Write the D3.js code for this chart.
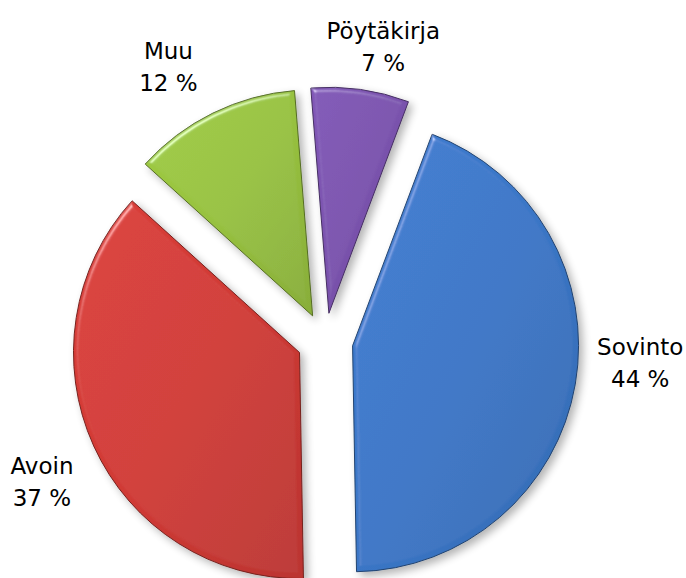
<!DOCTYPE html>
<html>
<head>
<meta charset="utf-8">
<script src="https://cdn.jsdelivr.net/npm/d3@7/dist/d3.min.js"></script>
<style>
  body { margin: 0; background: #fff; }
  text { font-family: "DejaVu Sans", Verdana, sans-serif; }
</style>
</head>
<body>
<svg id="chart" width="686" height="578"></svg>
<script>
// chart data
const categories = ["Sovinto", "Avoin", "Muu", "Pöytäkirja"];
const values = [44, 37, 12, 7];
const percentLabels = ["44 %", "37 %", "12 %", "7 %"];
const baseColors = ["#3a76c6", "#d03a35", "#97c13f", "#7a52ad"];

// layout
const cx = 325, cy = 341;
const radius = 226;
const explode = 28;
const labelRadius = 316;
const startDeg = 20.6;
// small per-label [angle deg, radius px] nudges so labels sit like the original
const labelNudge = [[-5.8, 0], [-2, 0], [-3.5, 0], [3.2, -16]];

const svg = d3.select("#chart");
const defs = svg.append("defs");

// bevel + shadow filter
const f = defs.append("filter").attr("id", "bevel")
    .attr("x", "-20%").attr("y", "-20%").attr("width", "140%").attr("height", "140%");
f.append("feGaussianBlur").attr("in", "SourceAlpha").attr("stdDeviation", 2.5).attr("result", "blur");
const spec = f.append("feSpecularLighting").attr("in", "blur")
    .attr("surfaceScale", 4).attr("specularConstant", 0.8).attr("specularExponent", 30)
    .attr("lighting-color", "#ffffff").attr("result", "spec");
spec.append("feDistantLight").attr("azimuth", 235).attr("elevation", 35);
f.append("feComposite").attr("in", "spec").attr("in2", "SourceAlpha").attr("operator", "in").attr("result", "specIn");
f.append("feComposite").attr("in", "SourceGraphic").attr("in2", "specIn")
    .attr("operator", "arithmetic").attr("k1", 0).attr("k2", 1).attr("k3", 0.55).attr("k4", 0).attr("result", "lit");
f.append("feGaussianBlur").attr("in", "SourceAlpha").attr("stdDeviation", 4).attr("result", "sblur");
f.append("feOffset").attr("in", "sblur").attr("dx", 4).attr("dy", 4).attr("result", "soff");
f.append("feComponentTransfer").attr("in", "soff").attr("result", "shadow")
    .append("feFuncA").attr("type", "linear").attr("slope", 0.3);
const merge = f.append("feMerge");
merge.append("feMergeNode").attr("in", "shadow");
merge.append("feMergeNode").attr("in", "lit");

// gradient per slice
baseColors.forEach((c, i) => {
    const g = defs.append("linearGradient").attr("id", "grad" + i)
        .attr("x1", "0%").attr("y1", "0%").attr("x2", "100%").attr("y2", "100%");
    g.append("stop").attr("offset", "0%").attr("stop-color", d3.color(c).brighter(0.15));
    g.append("stop").attr("offset", "50%").attr("stop-color", c);
    g.append("stop").attr("offset", "100%").attr("stop-color", d3.color(c).darker(0.3));
});

const pie = d3.pie().sort(null)
    .startAngle(startDeg * Math.PI / 180)
    .endAngle(startDeg * Math.PI / 180 + 2 * Math.PI);
const arcs = pie(values);
const arc = d3.arc().innerRadius(0).outerRadius(radius);

const g = svg.append("g").attr("transform", `translate(${cx},${cy})`);

const mid = d => (d.startAngle + d.endAngle) / 2;

g.selectAll("path.slice").data(arcs).enter()
    .append("path")
    .attr("class", "slice")
    .attr("d", arc)
    .attr("transform", d => {
        const a = mid(d);
        return `translate(${explode * Math.sin(a)},${-explode * Math.cos(a)})`;
    })
    .attr("fill", (d, i) => `url(#grad${i})`)
    .attr("stroke", (d, i) => d3.color(baseColors[i]).darker(1.6))
    .attr("stroke-width", 1)
    .attr("stroke-linejoin", "round")
    .attr("filter", "url(#bevel)");

// labels
const labels = g.selectAll("text.label").data(arcs).enter()
    .append("text")
    .attr("class", "label")
    .attr("text-anchor", "middle")
    .attr("font-size", 23)
    .attr("fill", "#000")
    .attr("transform", (d, i) => {
        const a = mid(d) + labelNudge[i][0] * Math.PI / 180;
        const rr = labelRadius + labelNudge[i][1];
        return `translate(${rr * Math.sin(a)},${-rr * Math.cos(a)})`;
    });
labels.append("tspan").attr("x", 0).attr("y", -8).text((d, i) => categories[i]);
labels.append("tspan").attr("x", 0).attr("y", 24).text((d, i) => percentLabels[i]);
</script>
</body>
</html>
